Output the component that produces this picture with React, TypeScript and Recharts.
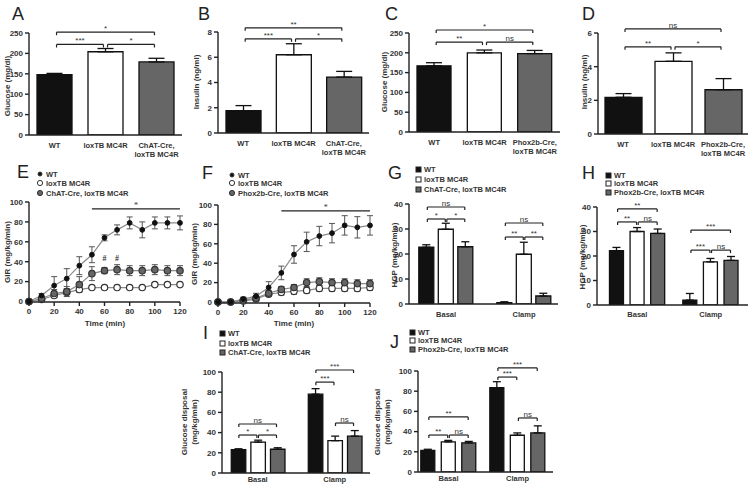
import { BarChart, Bar, ErrorBar, Cell, XAxis, YAxis, LineChart, Line, ReferenceLine, ReferenceDot } from "recharts";

const FONT = "'Liberation Sans', Arial, sans-serif";
const INK = "#222";
const fills = ["#111111", "#ffffff", "#666666"];

// panels A-D: fasting glucose / insulin
const groupsChat = ["WT", "loxTB MC4R", "ChAT-Cre,\nloxTB MC4R"];
const groupsPhox = ["WT", "loxTB MC4R", "Phox2b-Cre,\nloxTB MC4R"];
const glucoseChat = [148, 204, 179];
const glucoseChatErr = [3, 8, 9];
const insulinChat = [1.77, 6.2, 4.43];
const insulinChatErr = [0.4, 0.87, 0.45];
const glucosePhox = [167, 200, 198];
const glucosePhoxErr = [8, 7, 8];
const insulinPhox = [2.18, 4.32, 2.63];
const insulinPhoxErr = [0.22, 0.5, 0.66];

// panels E-F: GIR during clamp
const minutes = [0, 10, 20, 30, 40, 50, 60, 70, 80, 90, 100, 110, 120];
const girWtE = [0, 6, 16, 23, 36, 47, 64, 72, 79, 72, 79, 79, 79];
const girWtEErr = [0.5, 2, 9, 10, 9, 8, 3, 5, 6, 8, 6, 6, 7];
const girLoxE = [0, 2, 6, 9, 12, 14, 14, 14, 14, 14, 17, 17, 17];
const girLoxEErr = [0.5, 1, 2, 2, 2, 2, 2, 2, 2, 1, 2, 2, 2];
const girChatE = [0, 3, 8, 10, 17, 28, 31, 32, 31, 31, 32, 31, 31];
const girChatEErr = [0.5, 1, 4, 5, 8, 7, 3, 5, 5, 5, 5, 5, 5];
const girWtF = [0, 0, 3, 6, 15, 30, 49, 62, 68, 71, 79, 77, 79];
const girWtFErr = [0.5, 1, 2, 3, 6, 7, 9, 10, 10, 10, 10, 11, 10];
const girLoxF = [0, 0, 1, 3, 8, 10, 11, 12, 14, 14, 14, 14, 15];
const girLoxFErr = [0.5, 0.5, 1, 2, 2, 3, 3, 3, 3, 3, 3, 3, 3];
const girPhoxF = [0, 0, 2, 4, 9, 13, 15, 20, 21, 20, 20, 19, 19];
const girPhoxFErr = [0.5, 0.5, 1, 2, 3, 3, 3, 4, 4, 4, 4, 4, 4];

// panels G-J: basal / clamp
const phases = ["Basal", "Clamp"];
const hgpChatBasal = [22.7, 29.9, 22.9];
const hgpChatBasalErr = [1, 2.4, 2];
const hgpChatClamp = [0.5, 19.9, 3.2];
const hgpChatClampErr = [0.4, 4.8, 1.1];
const hgpPhoxBasal = [22.2, 30, 29.2];
const hgpPhoxBasalErr = [1.3, 1.6, 1.8];
const hgpPhoxClamp = [2, 17.6, 18.2];
const hgpPhoxClampErr = [2.7, 1.4, 1.6];
const gdChatBasal = [23, 30.5, 23.5];
const gdChatBasalErr = [1, 2, 1.5];
const gdChatClamp = [78, 32, 36.5];
const gdChatClampErr = [5.5, 4.5, 5.5];
const gdPhoxBasal = [21.5, 29.8, 28.8];
const gdPhoxBasalErr = [1, 1.5, 1.5];
const gdPhoxClamp = [83.4, 36.4, 38.7];
const gdPhoxClampErr = [6, 2.3, 7];

type Bracket = { a: number; b: number; y: number; text: string };

const tickStyle = { fontSize: 8, fontWeight: "bold", fill: "#333", fontFamily: FONT };
const axisStyle = { stroke: INK, strokeWidth: 1.4 };

function CatTick(props: any) {
  const { x, y, payload, labels, slots, dy0 } = props;
  let idx = 0;
  slots.forEach((s: number, i: number) => {
    if (Math.abs(s - payload.value) < Math.abs(slots[idx] - payload.value)) idx = i;
  });
  const lines = String(labels[idx] ?? "").split("\n");
  return (
    <text x={x} y={y} textAnchor="middle" fontSize={7.5} fontWeight="bold" fill="#333" fontFamily={FONT}>
      {lines.map((l, i) => (
        <tspan key={i} x={x} dy={i === 0 ? dy0 : 9}>{l}</tspan>
      ))}
    </text>
  );
}

function bracketLines(brs: Bracket[], slots: number[], yMax: number, prefix: string) {
  const dy = yMax * 0.03;
  const out: any[] = [];
  brs.forEach((br, i) => {
    const xa = slots[br.a] + 0.04;
    const xb = slots[br.b] - 0.04;
    const common = { stroke: INK, strokeWidth: 1.2, ifOverflow: "visible" as const };
    out.push(
      <ReferenceLine key={prefix + "h" + i} {...common}
        segment={[{ x: xa, y: br.y }, { x: xb, y: br.y }]}
        label={{ value: br.text, position: "top", offset: 1, fontSize: 8, fill: "#333", fontFamily: FONT }} />
    );
    out.push(<ReferenceLine key={prefix + "l" + i} {...common} segment={[{ x: xa, y: br.y }, { x: xa, y: br.y - dy }]} />);
    out.push(<ReferenceLine key={prefix + "r" + i} {...common} segment={[{ x: xb, y: br.y }, { x: xb, y: br.y - dy }]} />);
  });
  return out;
}

function range(max: number, step: number) {
  const t: number[] = [];
  for (let v = 0; v <= max + 1e-9; v += step) t.push(+v.toFixed(4));
  return t;
}

type BarSpec = {
  plot: [number, number, number, number];
  xDomain: [number, number];
  slots: number[];
  values: number[];
  errs: number[];
  yMax: number;
  yStep: number;
  tickSlots: number[];
  tickLabels: string[];
  labelDy: number;
  brackets: Bracket[];
  barSize: number;
  capW: number;
};

function BarPanel({ spec, id }: { spec: BarSpec; id: string }) {
  const [L, R, T, B] = spec.plot;
  const mt = 24, mr = 6, xh = 30, yw = 30;
  const rows = spec.values.map((v, i) => ({ slot: spec.slots[i], v, err: [0, spec.errs[i]] }));
  return (
    <div style={{ position: "absolute", left: L - yw, top: T - mt }}>
      <BarChart width={yw + R - L + mr} height={mt + B - T + xh} data={rows}
        margin={{ top: mt, right: mr, left: 0, bottom: 0 }} style={{ overflow: "visible" }}>
        <XAxis type="number" dataKey="slot" domain={spec.xDomain} ticks={spec.tickSlots} interval={0}
          allowDataOverflow tickLine={false} axisLine={axisStyle} tickSize={4} height={xh}
          tick={(p: any) => <CatTick {...p} labels={spec.tickLabels} slots={spec.tickSlots} dy0={spec.labelDy} />} />
        <YAxis type="number" domain={[0, spec.yMax]} ticks={range(spec.yMax, spec.yStep)} interval={0}
          allowDataOverflow width={yw} axisLine={axisStyle} tickLine={axisStyle} tickSize={4} tick={tickStyle} />
        <Bar dataKey="v" barSize={spec.barSize} stroke="#111" strokeWidth={1.3} isAnimationActive={false}>
          {rows.map((_, i) => <Cell key={i} fill={fills[i % 3]} />)}
          <ErrorBar dataKey="err" width={spec.capW} stroke="#111" strokeWidth={1.3} direction="y" />
        </Bar>
        {bracketLines(spec.brackets, spec.slots, spec.yMax, id)}
      </BarChart>
    </div>
  );
}

type LineSpec = {
  plot: [number, number, number, number];
  wt: number[]; wtErr: number[];
  lox: number[]; loxErr: number[];
  ko: number[]; koErr: number[];
  sigY: number;
  hashes: { t: number; y: number }[];
};

function LinePanel({ spec }: { spec: LineSpec }) {
  const [L, R, T, B] = spec.plot;
  const mt = 24, mr = 8, xh = 30, yw = 30;
  const rows = minutes.map((t, i) => ({
    t, wt: spec.wt[i], wtE: spec.wtErr[i], lox: spec.lox[i], loxE: spec.loxErr[i], ko: spec.ko[i], koE: spec.koErr[i],
  }));
  return (
    <div style={{ position: "absolute", left: L - yw, top: T - mt }}>
      <LineChart width={yw + R - L + mr} height={mt + B - T + xh} data={rows}
        margin={{ top: mt, right: mr, left: 0, bottom: 0 }} style={{ overflow: "visible" }}>
        <XAxis type="number" dataKey="t" domain={[0, 120]} ticks={range(120, 20)} interval={0}
          axisLine={axisStyle} tickLine={axisStyle} tickSize={4} height={xh} tick={tickStyle} />
        <YAxis type="number" domain={[0, 100]} ticks={range(100, 20)} interval={0}
          width={yw} axisLine={axisStyle} tickLine={axisStyle} tickSize={4} tick={tickStyle} />
        <Line dataKey="lox" stroke="#8a8a8a" strokeWidth={1.2} isAnimationActive={false}
          dot={{ r: 3.2, fill: "#fff", stroke: "#333", strokeWidth: 1.2 }}>
          <ErrorBar dataKey="loxE" width={3} stroke="#555" strokeWidth={1} direction="y" />
        </Line>
        <Line dataKey="ko" stroke="#8a8a8a" strokeWidth={1.2} isAnimationActive={false}
          dot={{ r: 3.2, fill: "#666", stroke: "#333", strokeWidth: 1.2 }}>
          <ErrorBar dataKey="koE" width={3} stroke="#555" strokeWidth={1} direction="y" />
        </Line>
        <Line dataKey="wt" stroke="#8a8a8a" strokeWidth={1.2} isAnimationActive={false}
          dot={{ r: 2.4, fill: "#111", stroke: "#111", strokeWidth: 1 }}>
          <ErrorBar dataKey="wtE" width={3} stroke="#555" strokeWidth={1} direction="y" />
        </Line>
        <ReferenceLine segment={[{ x: 50, y: spec.sigY }, { x: 120, y: spec.sigY }]} stroke={INK} strokeWidth={1.2}
          ifOverflow="visible" label={{ value: "*", position: "top", offset: 1, fontSize: 8, fill: "#333" }} />
        {spec.hashes.map((h, i) => (
          <ReferenceDot key={i} x={h.t} y={h.y} r={0} stroke="none" fill="none" ifOverflow="visible"
            label={{ value: "#", position: "center", fontSize: 8, fontWeight: "bold", fill: "#333" }} />
        ))}
      </LineChart>
    </div>
  );
}

function Letter({ x, y, text }: { x: number; y: number; text: string }) {
  return (
    <div style={{ position: "absolute", left: x, top: y - 9, fontSize: 18, lineHeight: "18px", color: "#222", fontFamily: FONT }}>
      {text}
    </div>
  );
}

function YLab({ x, y, text }: { x: number; y: number; text: string }) {
  return (
    <div style={{
      position: "absolute", left: x, top: y, transform: "translate(-50%,-50%) rotate(-90deg)",
      whiteSpace: "pre", textAlign: "center", fontSize: 8, fontWeight: "bold", lineHeight: "10px",
      color: "#333", fontFamily: FONT,
    }}>{text}</div>
  );
}

function XLab({ x, y, text }: { x: number; y: number; text: string }) {
  return (
    <div style={{
      position: "absolute", left: x, top: y, transform: "translate(-50%,-50%)", whiteSpace: "pre",
      fontSize: 8, fontWeight: "bold", color: "#333", fontFamily: FONT,
    }}>{text}</div>
  );
}

function Marker({ kind }: { kind: string }) {
  if (kind.startsWith("dot")) {
    const fill = kind === "dotWt" ? "#111" : kind === "dotLox" ? "#fff" : "#666";
    const r = kind === "dotWt" ? 2 : 2.6;
    return <svg width={8} height={8}><circle cx={4} cy={4} r={r} fill={fill} stroke="#333" strokeWidth={1} /></svg>;
  }
  const fill = kind === "sqWt" ? "#111" : kind === "sqLox" ? "#fff" : "#666";
  return <svg width={7} height={7}><rect x={1} y={1} width={5} height={5} fill={fill} stroke="#222" strokeWidth={1} /></svg>;
}

function LegendBox({ x, ys, labels, kinds }: { x: number; ys: number[]; labels: string[]; kinds: string[] }) {
  return (
    <>
      {labels.map((l, i) => (
        <div key={i} style={{
          position: "absolute", left: x - 4, top: ys[i] - 5, height: 10, display: "flex", alignItems: "center",
          gap: 2, fontSize: 7.5, fontWeight: "bold", color: "#333", fontFamily: FONT, whiteSpace: "nowrap",
        }}>
          <Marker kind={kinds[i]} />
          <span>{l}</span>
        </div>
      ))}
    </>
  );
}

const slotsOf = (gap: number) => [0, 1, 2, 3 + gap, 4 + gap, 5 + gap];

export default function App() {
  const three = [0, 1, 2];
  const specA: BarSpec = {
    plot: [29, 182, 33, 135], xDomain: [-0.5, 2.5], slots: three, values: glucoseChat, errs: glucoseChatErr,
    yMax: 250, yStep: 50, tickSlots: three, tickLabels: groupsChat, labelDy: 7, barSize: 35, capW: 8,
    brackets: [{ a: 0, b: 2, y: 252, text: "*" }, { a: 0, b: 1, y: 222, text: "***" }, { a: 1, b: 2, y: 222, text: "*" }],
  };
  const specB: BarSpec = {
    plot: [218, 369, 32, 133], xDomain: [-0.5, 2.5], slots: three, values: insulinChat, errs: insulinChatErr,
    yMax: 8, yStep: 2, tickSlots: three, tickLabels: groupsChat, labelDy: 7, barSize: 35, capW: 8,
    brackets: [{ a: 0, b: 2, y: 8.33, text: "**" }, { a: 0, b: 1, y: 7.46, text: "***" }, { a: 1, b: 2, y: 7.46, text: "*" }],
  };
  const specC: BarSpec = {
    plot: [409, 560, 33, 132], xDomain: [-0.5, 2.5], slots: three, values: glucosePhox, errs: glucosePhoxErr,
    yMax: 250, yStep: 50, tickSlots: three, tickLabels: groupsPhox, labelDy: 7, barSize: 34, capW: 8,
    brackets: [{ a: 0, b: 2, y: 257.6, text: "*" }, { a: 0, b: 1, y: 227, text: "**" }, { a: 1, b: 2, y: 227, text: "ns" }],
  };
  const specD: BarSpec = {
    plot: [598, 748, 33, 134], xDomain: [-0.5, 2.5], slots: three, values: insulinPhox, errs: insulinPhoxErr,
    yMax: 6, yStep: 2, tickSlots: three, tickLabels: groupsPhox, labelDy: 7, barSize: 37, capW: 8,
    brackets: [{ a: 0, b: 2, y: 6.24, text: "ns" }, { a: 0, b: 1, y: 5.18, text: "**" }, { a: 1, b: 2, y: 5.18, text: "*" }],
  };
  const sG = slotsOf(1);
  const specG: BarSpec = {
    plot: [409, 558, 204, 304], xDomain: [-0.9, 6.74], slots: sG, values: [...hgpChatBasal, ...hgpChatClamp],
    errs: [...hgpChatBasalErr, ...hgpChatClampErr], yMax: 40, yStep: 10, tickSlots: [sG[1], sG[4]], tickLabels: phases,
    labelDy: 7, barSize: 15, capW: 4,
    brackets: [
      { a: 0, b: 2, y: 38.8, text: "ns" }, { a: 0, b: 1, y: 34, text: "*" }, { a: 1, b: 2, y: 34, text: "*" },
      { a: 3, b: 5, y: 32.4, text: "ns" }, { a: 3, b: 4, y: 26.8, text: "**" }, { a: 4, b: 5, y: 26.8, text: "**" },
    ],
  };
  const sH = slotsOf(0.56);
  const specH: BarSpec = {
    plot: [597, 748, 207, 305], xDomain: [-0.96, 6.37], slots: sH, values: [...hgpPhoxBasal, ...hgpPhoxClamp],
    errs: [...hgpPhoxBasalErr, ...hgpPhoxClampErr], yMax: 40, yStep: 10, tickSlots: [sH[1], sH[4]], tickLabels: phases,
    labelDy: 6, barSize: 14, capW: 4,
    brackets: [
      { a: 0, b: 2, y: 39.2, text: "**" }, { a: 0, b: 1, y: 33.9, text: "**" }, { a: 1, b: 2, y: 33.9, text: "ns" },
      { a: 3, b: 5, y: 30.6, text: "***" }, { a: 3, b: 4, y: 22.4, text: "***" }, { a: 4, b: 5, y: 22.4, text: "ns" },
    ],
  };
  const sI = slotsOf(0.93);
  const specI: BarSpec = {
    plot: [222, 370, 372, 473], xDomain: [-0.82, 6.73], slots: sI, values: [...gdChatBasal, ...gdChatClamp],
    errs: [...gdChatBasalErr, ...gdChatClampErr], yMax: 100, yStep: 20, tickSlots: [sI[1], sI[4]], tickLabels: phases,
    labelDy: 2.5, barSize: 14.5, capW: 4,
    brackets: [
      { a: 0, b: 2, y: 48.5, text: "ns" }, { a: 0, b: 1, y: 37.6, text: "*" }, { a: 1, b: 2, y: 37.6, text: "*" },
      { a: 3, b: 5, y: 102, text: "***" }, { a: 3, b: 4, y: 90, text: "***" }, { a: 4, b: 5, y: 49.5, text: "ns" },
    ],
  };
  const sJ = slotsOf(0.37);
  const specJ: BarSpec = {
    plot: [418, 553, 371, 472], xDomain: [-0.49, 6.1], slots: sJ, values: [...gdPhoxBasal, ...gdPhoxClamp],
    errs: [...gdPhoxBasalErr, ...gdPhoxClampErr], yMax: 100, yStep: 20, tickSlots: [sJ[1], sJ[4]], tickLabels: phases,
    labelDy: 3, barSize: 14, capW: 4,
    brackets: [
      { a: 0, b: 2, y: 54.5, text: "**" }, { a: 0, b: 1, y: 36.6, text: "**" }, { a: 1, b: 2, y: 36.6, text: "ns" },
      { a: 3, b: 5, y: 103, text: "***" }, { a: 3, b: 4, y: 94, text: "***" }, { a: 4, b: 5, y: 53.5, text: "ns" },
    ],
  };
  const specE: LineSpec = {
    plot: [29, 180, 202, 302], wt: girWtE, wtErr: girWtEErr, lox: girLoxE, loxErr: girLoxEErr, ko: girChatE, koErr: girChatEErr,
    sigY: 93, hashes: [{ t: 60, y: 44 }, { t: 70, y: 44 }],
  };
  const specF: LineSpec = {
    plot: [218, 370, 205, 303], wt: girWtF, wtErr: girWtFErr, lox: girLoxF, loxErr: girLoxFErr, ko: girPhoxF, koErr: girPhoxFErr,
    sigY: 94, hashes: [],
  };
  const chatLegend = ["WT", "loxTB MC4R", "ChAT-Cre, loxTB MC4R"];
  const phoxLegend = ["WT", "loxTB MC4R", "Phox2b-Cre, loxTB MC4R"];
  const dots = ["dotWt", "dotLox", "dotKo"];
  const squares = ["sqWt", "sqLox", "sqKo"];

  return (
    <div style={{ position: "absolute", left: 0, top: 0, width: 750, height: 484, background: "#fff", overflow: "hidden" }}>
      <BarPanel spec={specA} id="a" />
      <BarPanel spec={specB} id="b" />
      <BarPanel spec={specC} id="c" />
      <BarPanel spec={specD} id="d" />
      <LinePanel spec={specE} />
      <LinePanel spec={specF} />
      <BarPanel spec={specG} id="g" />
      <BarPanel spec={specH} id="h" />
      <BarPanel spec={specI} id="i" />
      <BarPanel spec={specJ} id="j" />

      <Letter x={12} y={14} text="A" />
      <Letter x={198} y={14} text="B" />
      <Letter x={385} y={14} text="C" />
      <Letter x={582} y={14} text="D" />
      <Letter x={17} y={172} text="E" />
      <Letter x={202} y={173} text="F" />
      <Letter x={388} y={173} text="G" />
      <Letter x={582} y={173} text="H" />
      <Letter x={203} y={333} text="I" />
      <Letter x={390} y={342} text="J" />

      <YLab x={8} y={86} text="Glucose (mg/dl)" />
      <YLab x={197} y={82} text="Insulin (ng/ml)" />
      <YLab x={385} y={82} text="Glucose (mg/dl)" />
      <YLab x={585} y={82} text="Insulin (ng/ml)" />
      <YLab x={8} y={252} text="GIR (mg/kg/min)" />
      <YLab x={195} y={254} text="GIR (mg/kg/min)" />
      <YLab x={395} y={255} text="HGP (mg/kg/min)" />
      <YLab x={583} y={257} text="HGP (mg/kg/min)" />
      <YLab x={190} y={422} text={"Glucose disposal\n(mg/kg/min)"} />
      <YLab x={383} y={422} text={"Glucose disposal\n(mg/kg/min)"} />

      <XLab x={105} y={323} text="Time (min)" />
      <XLab x={294} y={323} text="Time (min)" />

      <LegendBox x={40} ys={[174, 183, 193]} labels={chatLegend} kinds={dots} />
      <LegendBox x={232} ys={[175, 183, 193]} labels={phoxLegend} kinds={dots} />
      <LegendBox x={419} ys={[169, 179, 189]} labels={chatLegend} kinds={squares} />
      <LegendBox x={609} ys={[175, 183, 192]} labels={phoxLegend} kinds={squares} />
      <LegendBox x={223} ys={[333, 343, 352]} labels={chatLegend} kinds={squares} />
      <LegendBox x={413} ys={[332, 340, 349]} labels={phoxLegend} kinds={squares} />
    </div>
  );
}
